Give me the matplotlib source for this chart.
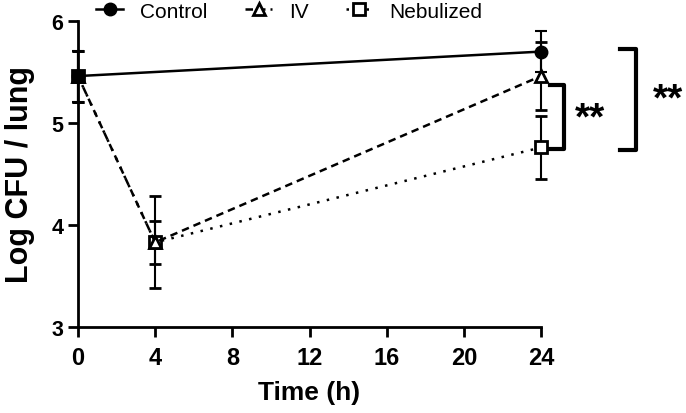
import matplotlib.pyplot as plt
from matplotlib.lines import Line2D

plt.rcParams['font.family'] = ['Liberation Sans', 'DejaVu Sans']

# time points (h)
times = [0, 4, 24]

# Log CFU / lung, mean and error (control has no 4 h point)
control_times = [0, 24]
control_mean = [5.46, 5.70]
control_err = [0.25, 0.20]
iv_mean = [5.46, 3.83, 5.46]
iv_err = [0.25, 0.45, 0.33]
neb_mean = [5.46, 3.83, 4.76]
neb_err = [0.25, 0.21, 0.31]

xticks = [0, 4, 8, 12, 16, 20, 24]
yticks = [3, 4, 5, 6]

fig = plt.figure(figsize=(6.86, 4.14), dpi=100)
ax = fig.add_axes([0.1137, 0.2077, 0.675, 0.7392])

err_kw = dict(ecolor='black', elinewidth=1.5, capsize=4.5, capthick=1.5)

neb_style = (0, (1, 3))
iv_style = (0, (3, 2))

conts = []
conts.append(ax.errorbar(times, neb_mean, yerr=neb_err, color='black', linestyle=neb_style,
                         lw=1.8, marker='s', ms=9, mfc='white', mec='black', mew=2,
                         zorder=3, **err_kw))
conts.append(ax.errorbar(times, iv_mean, yerr=iv_err, color='black', linestyle=iv_style,
                         lw=1.8, marker='^', ms=9, mfc='white', mec='black', mew=2,
                         zorder=4, **err_kw))
conts.append(ax.errorbar(control_times, control_mean, yerr=control_err, color='black',
                         linestyle='-', lw=1.8, marker='o', ms=9, mfc='black', mec='black',
                         zorder=5, **err_kw))
for c in conts:
    for a in c.get_children():
        a.set_clip_on(False)

ax.set_xlim(0, 24)
ax.set_ylim(3, 6)
ax.set_xticks(xticks)
ax.set_yticks(yticks)
for s in ['top', 'right']:
    ax.spines[s].set_visible(False)
for s in ['left', 'bottom']:
    ax.spines[s].set_linewidth(2)
ax.tick_params(width=2, length=7.5)
ax.tick_params(axis='x', pad=6)
ax.tick_params(axis='y', pad=3)
for lab in ax.get_xticklabels():
    lab.set_fontweight('bold')
    lab.set_fontsize(17)
for lab in ax.get_yticklabels():
    lab.set_fontweight('bold')
    lab.set_fontsize(15.5)
ax.set_xlabel('Time (h)', fontsize=19, fontweight='bold', labelpad=8)
ax.set_ylabel('Log CFU / lung', fontsize=22, fontweight='bold', labelpad=12)


# significance brackets, in figure pixels
def bracket(x0, x1, y_top, y_bot, tx, ty):
    W, H = 686.0, 414.0
    fig.add_artist(Line2D([x0 / W, x1 / W, x1 / W, x0 / W],
                          [1 - y_top / H, 1 - y_top / H, 1 - y_bot / H, 1 - y_bot / H],
                          color='black', lw=3, transform=fig.transFigure))
    fig.text(tx / W, 1 - ty / H, '**', fontsize=28, fontweight='bold',
             ha='center', va='center')


bracket(550, 564, 86, 150, 590, 119)
bracket(620, 636, 50, 151, 668, 100)

handles = [
    Line2D([], [], color='black', lw=1.8, marker='o', ms=9, mfc='black'),
    Line2D([], [], color='black', lw=1.8, linestyle=iv_style, marker='^', ms=9,
           mfc='white', mew=2),
    Line2D([], [], color='black', lw=1.8, linestyle=neb_style, marker='s', ms=9,
           mfc='white', mew=2),
]
fig.legend(handles, ['Control', 'IV', 'Nebulized'],
           loc='center', bbox_to_anchor=(0.422, 0.971), ncol=3, frameon=False,
           fontsize=15, handlelength=1.3, handletextpad=0.8, columnspacing=1.8)

fig.savefig('out.png', dpi=100)
